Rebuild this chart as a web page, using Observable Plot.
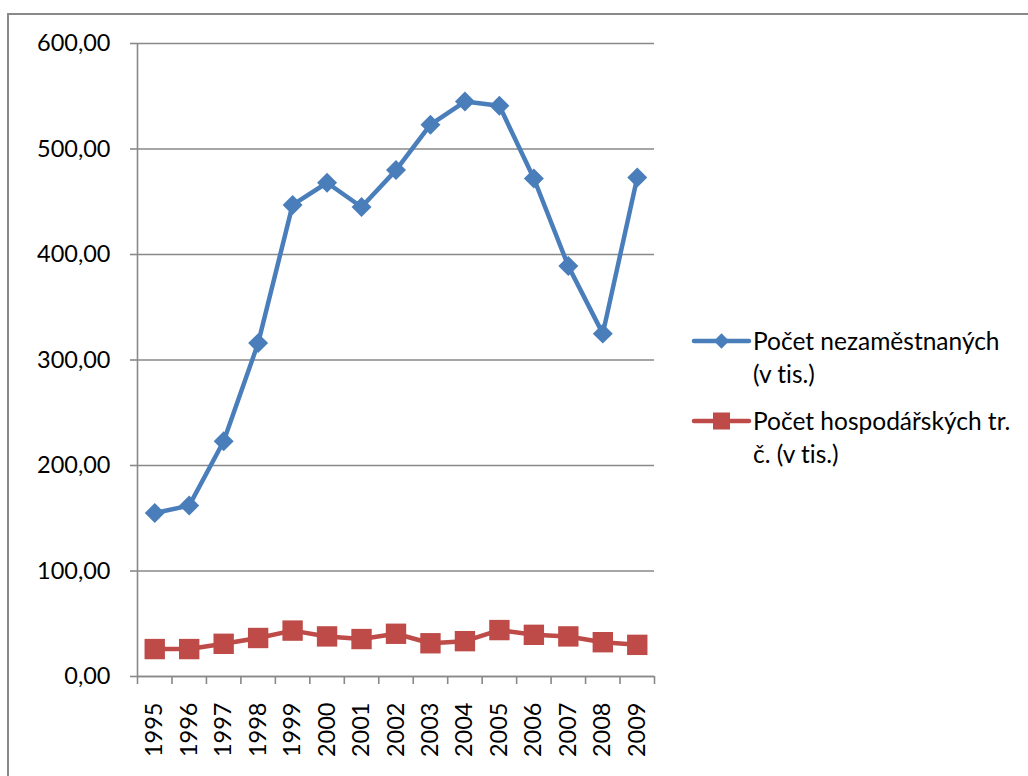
<!DOCTYPE html>
<html>
<head>
<meta charset="utf-8">
<script src="https://cdn.jsdelivr.net/npm/d3@7"></script>
<script src="https://cdn.jsdelivr.net/npm/@observablehq/plot@0.6"></script>
<style>
  html, body { margin: 0; padding: 0; background: #fff; overflow: hidden; width: 1028px; height: 776px; }
  #frame { position: absolute; left: 7px; top: 13px; width: 1100px; height: 900px; border-left: 2px solid #898989; border-top: 2px solid #898989; }
  #chart { position: absolute; left: 0; top: 0; }
  #legend { position: absolute; left: 0; top: 0; font-family: Lato, sans-serif; font-size: 24.5px; color: #000; font-variant-ligatures: none; font-feature-settings: "liga" 0; }
  .entry { position: absolute; left: 753px; line-height: 33px; white-space: nowrap; }
  #swatches { position: absolute; left: 0; top: 0; }
</style>
</head>
<body>
<div id="frame"></div>
<div id="chart"></div>
<div id="legend"></div>
<script>
const years = [1995, 1996, 1997, 1998, 1999, 2000, 2001, 2002, 2003, 2004, 2005, 2006, 2007, 2008, 2009];
const unemployed = [155, 162, 223, 316, 447, 468, 445, 480, 523, 545, 541, 472, 389, 325, 473];
const crimes = [26, 26, 31, 36.5, 43.5, 38, 35.5, 40.5, 31.5, 33.5, 44, 39.5, 38, 32.5, 30];
const seriesNames = ["Počet nezaměstnaných (v tis.)", "Počet hospodářských tr. č. (v tis.)"];
const legendLines = [["Počet nezaměstnaných", "(v tis.)"], ["Počet hospodářských tr.", "č. (v tis.)"]];
const yTicks = [0, 100, 200, 300, 400, 500, 600];
const colors = ["#4A7EBB", "#BE4B48"];

const rows1 = years.map((y, i) => ({year: y, value: unemployed[i]}));
const rows2 = years.map((y, i) => ({year: y, value: crimes[i]}));
const xDomain = [years[0] - 0.5, years[years.length - 1] + 0.5];
const boundaries = years.map(y => y - 0.5).concat([years[years.length - 1] + 0.5]);
const gray = "#898989";
const fmt = d => d.toFixed(2).replace(".", ",");

const chart = Plot.plot({
  width: 1028,
  height: 776,
  marginLeft: 137,
  marginRight: 374,
  marginTop: 43,
  marginBottom: 100,
  style: {fontFamily: "Lato, sans-serif", fontSize: "23px", background: "transparent", color: "#000"},
  x: {type: "linear", domain: xDomain, label: null},
  y: {domain: [0, 600], label: null},
  marks: [
    Plot.gridY(yTicks, {stroke: gray, strokeOpacity: 1, strokeWidth: 1.6}),
    Plot.ruleX([xDomain[0]], {stroke: gray, strokeWidth: 1.6}),
    Plot.ruleY([0], {stroke: gray, strokeWidth: 1.6}),
    Plot.axisY(yTicks, {tickSize: 7, tickPadding: 20, tickFormat: fmt, stroke: gray, strokeWidth: 1.6, fill: "#000", fontSize: 23.5, label: null}),
    Plot.axisX(boundaries, {tickSize: 8, tickFormat: () => "", stroke: gray, strokeWidth: 1.6, label: null}),
    Plot.axisX(years, {tickSize: 0, tickPadding: 26, tickRotate: -90, tickFormat: d => String(d), fill: "#000", fontSize: 23.5, label: null}),
    Plot.line(rows1, {x: "year", y: "value", stroke: colors[0], strokeWidth: 4.5}),
    Plot.dot(rows1, {x: "year", y: "value", symbol: "diamond2", r: 9, fill: colors[0], stroke: "none"}),
    Plot.line(rows2, {x: "year", y: "value", stroke: colors[1], strokeWidth: 4.5}),
    Plot.dot(rows2, {x: "year", y: "value", symbol: "square", r: 11.5, fill: colors[1], stroke: "none"})
  ]
});
document.getElementById("chart").appendChild(chart);

// Legend
const legend = document.getElementById("legend");
const entryTops = [324, 404];
legendLines.forEach((lines, i) => {
  const div = document.createElement("div");
  div.className = "entry";
  div.style.top = entryTops[i] + "px";
  div.innerHTML = lines.join("<br>");
  legend.appendChild(div);
});
const sw = d3.select(legend).append("svg").attr("id", "swatches").attr("width", 1028).attr("height", 776);
entryTops.forEach((t, i) => {
  const cy = t + 17;
  sw.append("line").attr("x1", 694).attr("x2", 749).attr("y1", cy).attr("y2", cy)
    .attr("stroke", colors[i]).attr("stroke-width", 4.5).attr("stroke-linecap", "round");
  if (i === 0) {
    sw.append("path").attr("d", d3.symbol(d3.symbolDiamond2, 150)()).attr("transform", `translate(721.5,${cy})`).attr("fill", colors[i]);
  } else {
    sw.append("rect").attr("x", 713).attr("y", cy - 8.5).attr("width", 17).attr("height", 17).attr("fill", colors[i]);
  }
});
</script>
</body>
</html>
